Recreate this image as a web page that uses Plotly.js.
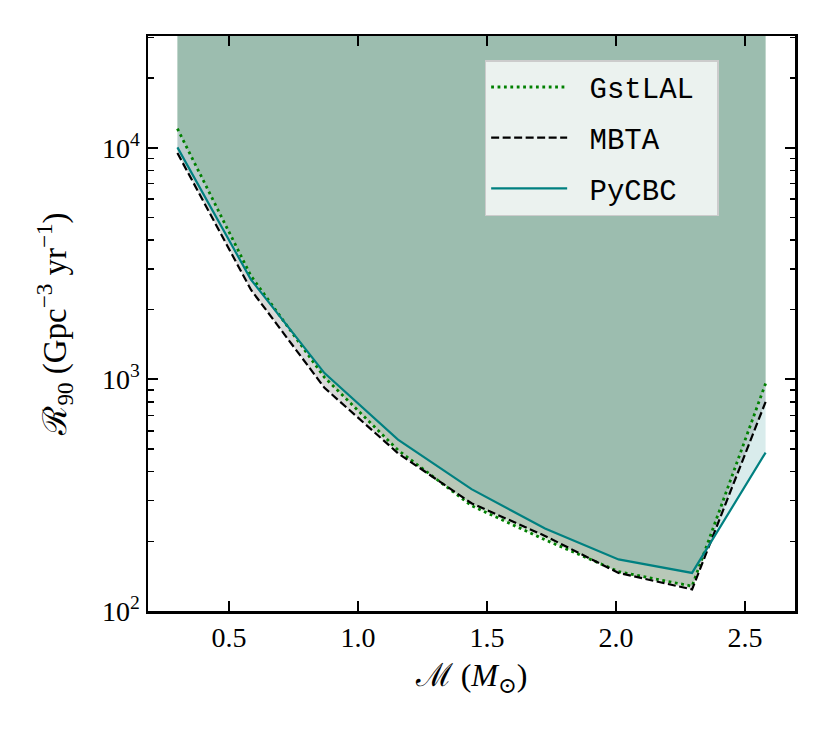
<!DOCTYPE html>
<html>
<head>
<meta charset="utf-8">
<script src="https://cdn.plot.ly/plotly-3.0.1.min.js"></script>
<style>
  html, body { margin: 0; padding: 0; background: #fff; }
  #chart { width: 830px; height: 738px; }
</style>
</head>
<body>
<div id="chart"></div>
<script>
// ── Data ────────────────────────────────────────────────────────────────
const chirpMass = [0.3, 0.585, 0.87, 1.155, 1.44, 1.725, 2.01, 2.295, 2.58];
const gstlal    = [12100, 2800, 1020, 495, 285, 203, 148, 128, 960];
const mbta      = [9500, 2440, 920, 480, 292, 211, 146, 124, 800];
const pycbc     = [10050, 2700, 1065, 550, 336, 227, 167, 146, 483];
const fillTop   = 1e6;   // shaded region runs off the top of the axes

const yTickVals = [100, 1000, 10000];
const yTickText = ['10<sup>2</sup>', '10<sup>3</sup>', '10<sup>4</sup>'];

const series = [
  {name: 'GstLAL', y: gstlal, color: '#008000', rgb: '0,128,0',   dash: '2.8px,3.6px', width: 2.8},
  {name: 'MBTA',   y: mbta,   color: '#000000', rgb: '0,0,0',     dash: '8px,3.5px',   width: 2.2},
  {name: 'PyCBC',  y: pycbc,  color: '#008080', rgb: '0,128,128', dash: 'solid',       width: 2.2},
];

// ── Traces: shaded region above each curve, then the lines ──────────────
const fills = series.map(s => ({
  x: [...chirpMass, chirpMass[chirpMass.length - 1], chirpMass[0]],
  y: [...s.y, fillTop, fillTop],
  mode: 'lines',
  fill: 'toself',
  fillcolor: `rgba(${s.rgb},0.15)`,
  line: {width: 0},
  hoverinfo: 'skip',
  showlegend: false,
}));

// no-break spaces pad the legend label like the matplotlib legend
const lines = series.map(s => ({
  x: chirpMass, y: s.y,
  mode: 'lines',
  name: '\u00a0' + s.name + '\u00a0',
  legendgroup: s.name,
  line: {color: s.color, width: s.width, dash: s.dash},
}));

const serif = '"Liberation Serif", "DejaVu Serif", serif';
const axisFont = {family: serif, size: 28, color: '#000'};

const layout = {
  width: 830, height: 738,
  margin: {l: 148, r: 35, t: 36, b: 127},
  paper_bgcolor: '#fff',
  plot_bgcolor: '#fff',
  font: axisFont,
  showlegend: true,
  legend: {
    x: 0.882, y: 0.958, xanchor: 'right', yanchor: 'top',
    bgcolor: 'rgba(255,255,255,0.8)',
    bordercolor: '#cccccc', borderwidth: 1.5,
    font: {family: '"Liberation Mono", "DejaVu Sans Mono", monospace', size: 29, color: '#000'},
    itemwidth: 76,
    tracegroupgap: 10,
  },
  xaxis: {
    range: [0.186, 2.694],
    tickvals: [0.5, 1.0, 1.5, 2.0, 2.5],
    ticktext: ['0.5', '1.0', '1.5', '2.0', '2.5'],
    ticks: 'inside', ticklen: 10, tickwidth: 2, tickcolor: '#000',
    showline: true, linecolor: '#000', linewidth: 2.5, mirror: 'allticks',
    showgrid: false, zeroline: false,
    tickfont: axisFont,
    title: {text: 'ℳ (<i>M</i><sub>⊙</sub>)', font: {family: serif, size: 32, color: '#000'}, standoff: 12},
  },
  yaxis: {
    type: 'log',
    range: [2, 4.483],
    tickvals: yTickVals, ticktext: yTickText,
    ticks: 'inside', ticklen: 10, tickwidth: 2, tickcolor: '#000',
    minor: {ticks: 'inside', ticklen: 5.5, tickwidth: 1.5, tickcolor: '#000', dtick: 'D1', showgrid: false},
    showline: true, linecolor: '#000', linewidth: 2.5, mirror: 'allticks',
    showgrid: false, zeroline: false,
    tickfont: axisFont,
    title: {text: 'ℛ<sub>90</sub> (Gpc<sup>−3</sup> yr<sup>−1</sup>)', font: {family: serif, size: 33, color: '#000'}, standoff: 26},
  },
};

Plotly.newPlot('chart', [...fills, ...lines], layout, {displayModeBar: false, staticPlot: true});
</script>
</body>
</html>
